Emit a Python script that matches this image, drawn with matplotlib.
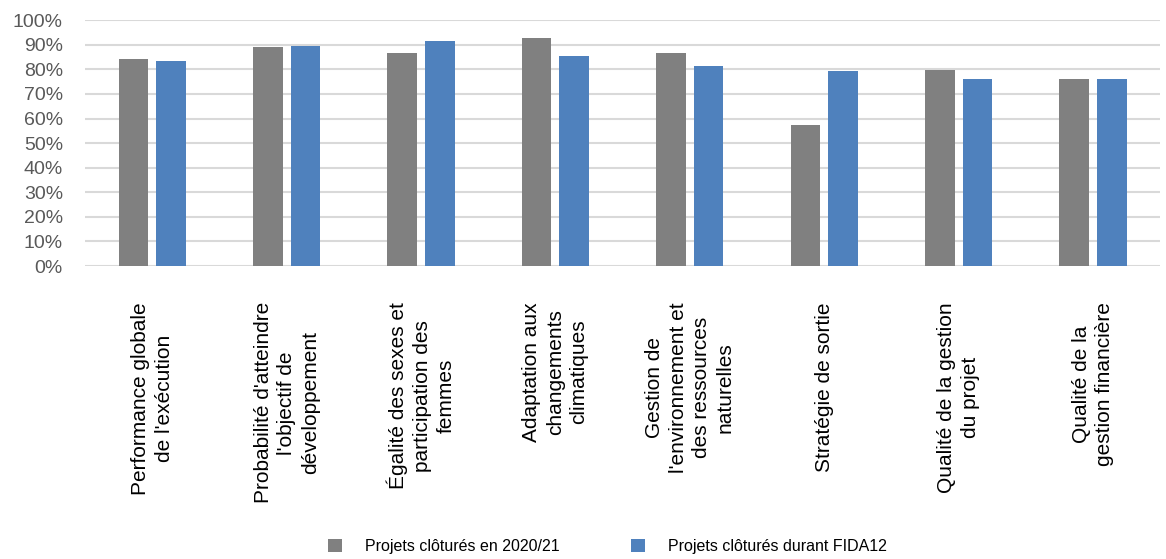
import numpy as np
import matplotlib
matplotlib.use("Agg")
import matplotlib.pyplot as plt
from matplotlib.ticker import PercentFormatter

plt.rcParams['font.family'] = ['Liberation Sans', 'DejaVu Sans']

categories = [
    "Performance globale\nde l'exécution",
    "Probabilité d'atteindre\nl'objectif de\ndéveloppement",
    "Égalité des sexes et\nparticipation des\nfemmes",
    "Adaptation aux\nchangements\nclimatiques",
    "Gestion de\nl'environnement et\ndes ressources\nnaturelles",
    "Stratégie de sortie",
    "Qualité de la gestion\ndu projet",
    "Qualité de la\ngestion financière",
]
projets_2020_21 = [84.3, 89.2, 86.7, 92.6, 86.7, 57.4, 79.7, 75.9]
projets_fida12 = [83.4, 89.3, 91.6, 85.3, 81.5, 79.4, 76.2, 76.2]
labels = ["Projets clôturés en 2020/21", "Projets clôturés durant FIDA12"]

fig = plt.figure(figsize=(11.66, 5.59), dpi=100)
ax = fig.add_axes([0.073, 0.524, 0.922, 0.440])

x = np.arange(len(categories))
w = 0.22
ax.bar(x - 0.14, projets_2020_21, w, color='#808080', label=labels[0], zorder=3)
ax.bar(x + 0.14, projets_fida12, w, color='#4F81BD', label=labels[1], zorder=3)

ax.set_ylim(0, 100)
ax.set_xlim(-0.5, len(categories) - 0.5)
ax.set_yticks(np.arange(0, 101, 10))
ax.yaxis.set_major_formatter(PercentFormatter(decimals=0))
ax.grid(axis='y', color='#D9D9D9', linewidth=1.5, zorder=0)
for s in ax.spines.values():
    s.set_visible(False)
ax.tick_params(axis='y', length=0, labelsize=14, labelcolor='#595959', pad=16)
ax.tick_params(axis='x', length=0, pad=26)
ax.set_xticks(x)
ax.set_xticklabels(categories, rotation=90, fontsize=15, va='top', ha='center',
                   multialignment='center', linespacing=1.3)

fig.legend(loc='lower center', bbox_to_anchor=(0.521, -0.016), ncol=2, frameon=False,
           fontsize=11.5, handlelength=0.875, handleheight=0.875, columnspacing=4.5,
           handletextpad=1.4)

plt.savefig("out.png", dpi=100)
